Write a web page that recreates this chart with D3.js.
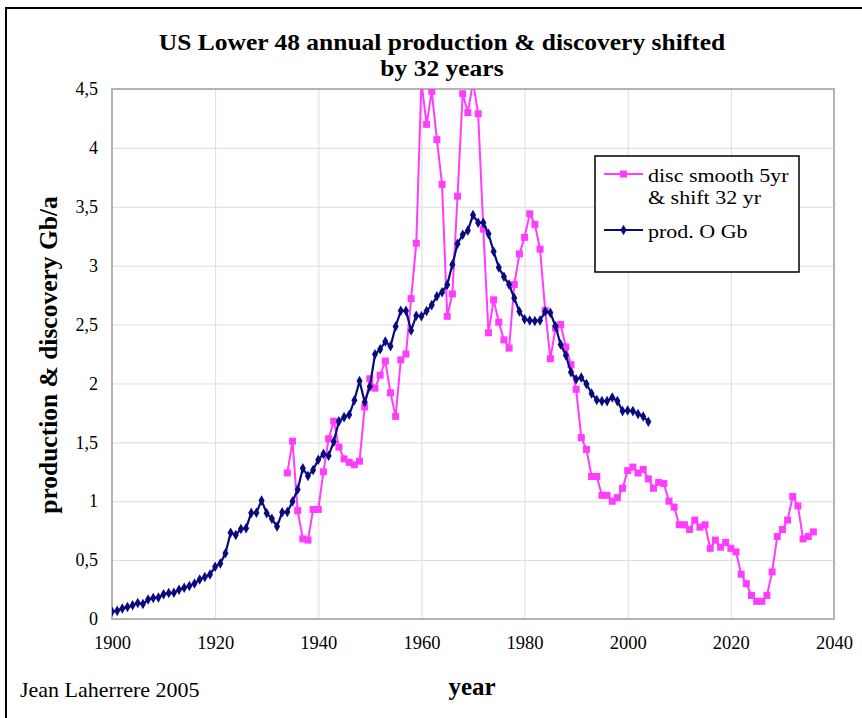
<!DOCTYPE html>
<html>
<head>
<meta charset="utf-8">
<script src="https://cdn.jsdelivr.net/npm/d3@7"></script>
<style>
  body { margin: 0; background: #fff; }
  svg text { font-family: "Liberation Serif", "Times New Roman", serif; fill: #000; }
</style>
</head>
<body>
<svg id="chart"></svg>
<script>
// US Lower 48 production, 1900..2004 (Gb/a)
const prodYears = d3.range(1900, 2005);
const prodValues = [
  0.064, 0.069, 0.089, 0.101, 0.117, 0.135, 0.127, 0.166, 0.179, 0.183,
  0.210, 0.220, 0.223, 0.248, 0.266, 0.281, 0.301, 0.335, 0.356, 0.378,
  0.443, 0.472, 0.558, 0.732, 0.714, 0.764, 0.771, 0.901, 0.902, 1.007,
  0.898, 0.851, 0.785, 0.906, 0.908, 0.997, 1.100, 1.279, 1.214, 1.265,
  1.353, 1.402, 1.387, 1.506, 1.678, 1.714, 1.734, 1.857, 2.020, 1.842,
  1.974, 2.248, 2.290, 2.357, 2.315, 2.484, 2.617, 2.617, 2.449, 2.575,
  2.570, 2.615, 2.665, 2.740, 2.775, 2.838, 3.010, 3.186, 3.262, 3.298,
  3.430, 3.365, 3.365, 3.270, 3.120, 2.985, 2.905, 2.840, 2.725, 2.610,
  2.545, 2.535, 2.530, 2.535, 2.610, 2.600, 2.485, 2.330, 2.240, 2.095,
  2.035, 2.050, 1.995, 1.915, 1.860, 1.850, 1.850, 1.880, 1.850, 1.765,
  1.770, 1.765, 1.740, 1.720, 1.675
];

// discovery smoothed 5 yr, shifted 32 yr, 1934..2036 (Gb/a)
const discYears = d3.range(1934, 2037);
const discValues = [
  1.24, 1.51, 0.92, 0.68, 0.67, 0.93, 0.93, 1.25, 1.53, 1.68,
  1.46, 1.36, 1.33, 1.31, 1.34, 1.80, 2.04, 1.96, 2.07, 2.19,
  1.92, 1.72, 2.20, 2.25, 2.72, 3.19, 4.56, 4.20, 4.48, 4.07,
  3.69, 2.57, 2.76, 3.59, 4.46, 4.30, 4.56, 4.29, 3.31, 2.43,
  2.71, 2.52, 2.37, 2.30, 2.84, 3.10, 3.24, 3.44, 3.35, 3.14,
  2.62, 2.21, 2.47, 2.50, 2.31, 2.16, 1.95, 1.54, 1.44, 1.21,
  1.21, 1.05, 1.05, 1.00, 1.03, 1.11, 1.26, 1.29, 1.24, 1.27,
  1.19, 1.11, 1.16, 1.15, 1.00, 0.95, 0.80, 0.80, 0.76, 0.84,
  0.78, 0.80, 0.60, 0.67, 0.61, 0.65, 0.60, 0.57, 0.38, 0.30,
  0.20, 0.15, 0.15, 0.20, 0.40, 0.70, 0.76, 0.84, 1.04, 0.96,
  0.68, 0.70, 0.74
];

const xTicks = [1900, 1920, 1940, 1960, 1980, 2000, 2020, 2040];
const yTicks = [0, 0.5, 1, 1.5, 2, 2.5, 3, 3.5, 4, 4.5];

const titleLines = ['US Lower 48 annual production & discovery shifted', 'by 32 years'];
const legendItems = [
  { lines: ['disc smooth 5yr', '& shift 32 yr'], color: '#ff3cff', shape: 'square' },
  { lines: ['prod. O Gb'], color: '#0a0a80', shape: 'diamond' }
];

const svgWidth = 862;
const svgHeight = 718;
const plot = { left: 112, top: 89, right: 834, bottom: 619 };
const serif = '"Liberation Serif", "Times New Roman", serif';

// widen text horizontally (the original lettering is wide for its height)
function stretch(sel, k) {
  sel.each(function () {
    const len = this.getComputedTextLength();
    d3.select(this).attr('textLength', len * k).attr('lengthAdjust', 'spacingAndGlyphs');
  });
}

const svg = d3.select('#chart')
  .attr('width', svgWidth)
  .attr('height', svgHeight);

// outer frame
svg.append('rect')
  .attr('x', 6).attr('y', 8)
  .attr('width', svgWidth + 10).attr('height', svgHeight + 10)
  .attr('fill', 'none').attr('stroke', '#000').attr('stroke-width', 2);

const x = d3.scaleLinear().domain([1900, 2040]).range([plot.left, plot.right]);
const y = d3.scaleLinear().domain([0, 4.5]).range([plot.bottom, plot.top]);

const fmt = d => String(d).replace('.', ',');

// grid
svg.append('g')
  .attr('transform', 'translate(0,' + plot.bottom + ')')
  .call(d3.axisBottom(x).tickValues(xTicks).tickSize(-(plot.bottom - plot.top)).tickFormat(''))
  .call(g => g.select('.domain').remove())
  .call(g => g.selectAll('line').attr('stroke', '#dcdcdc').attr('stroke-width', 1));
svg.append('g')
  .attr('transform', 'translate(' + plot.left + ',0)')
  .call(d3.axisLeft(y).tickValues(yTicks).tickSize(-(plot.right - plot.left)).tickFormat(''))
  .call(g => g.select('.domain').remove())
  .call(g => g.selectAll('line').attr('stroke', '#dcdcdc').attr('stroke-width', 1));

// tick labels
const xAxis = svg.append('g')
  .attr('transform', 'translate(0,' + plot.bottom + ')')
  .attr('font-family', serif)
  .call(d3.axisBottom(x).tickValues(xTicks).tickSize(0).tickPadding(17).tickFormat(d3.format('d')));
xAxis.select('.domain').remove();
xAxis.selectAll('text').attr('font-family', serif).style('font-size', '18.5px');

const yAxis = svg.append('g')
  .attr('transform', 'translate(' + (plot.left - 14) + ',0)')
  .attr('font-family', serif)
  .call(d3.axisLeft(y).tickValues(yTicks).tickSize(0).tickPadding(0).tickFormat(fmt));
yAxis.select('.domain').remove();
yAxis.selectAll('text').attr('font-family', serif).style('font-size', '18px');

// plot border
svg.append('rect')
  .attr('x', plot.left).attr('y', plot.top)
  .attr('width', plot.right - plot.left).attr('height', plot.bottom - plot.top)
  .attr('fill', 'none').attr('stroke', '#b4b4b4').attr('stroke-width', 2);

svg.append('clipPath').attr('id', 'clip')
  .append('rect')
  .attr('x', plot.left).attr('y', plot.top)
  .attr('width', plot.right - plot.left).attr('height', plot.bottom - plot.top);

const series = svg.append('g').attr('clip-path', 'url(#clip)');

const line = d3.line().x(d => x(d[0])).y(d => y(d[1]));

const disc = discYears.map((yr, i) => [yr, discValues[i]]);
const prod = prodYears.map((yr, i) => [yr, prodValues[i]]);

// discovery (magenta squares)
series.append('path')
  .datum(disc)
  .attr('d', line)
  .attr('fill', 'none')
  .attr('stroke', legendItems[0].color)
  .attr('stroke-width', 2);
series.selectAll('rect.disc')
  .data(disc)
  .enter()
  .append('rect')
  .attr('class', 'disc')
  .attr('x', d => x(d[0]) - 3.5)
  .attr('y', d => y(d[1]) - 3.5)
  .attr('width', 7).attr('height', 7)
  .attr('fill', legendItems[0].color);

// production (navy diamonds)
series.append('path')
  .datum(prod)
  .attr('d', line)
  .attr('fill', 'none')
  .attr('stroke', legendItems[1].color)
  .attr('stroke-width', 2.2);
const diamond = d3.symbol().type(d3.symbolDiamond).size(32);
series.selectAll('path.prod')
  .data(prod)
  .enter()
  .append('path')
  .attr('class', 'prod')
  .attr('d', diamond)
  .attr('transform', d => 'translate(' + x(d[0]) + ',' + y(d[1]) + ')')
  .attr('fill', legendItems[1].color);

// title, two lines
const title = svg.append('g')
  .attr('font-family', serif)
  .style('font-size', '23px').style('font-weight', 'bold');
titleLines.forEach((ln, i) => {
  title.append('text')
    .attr('x', 442)
    .attr('y', 50 + i * 26)
    .attr('text-anchor', 'middle')
    .text(ln);
});
stretch(title.selectAll('text'), 25.5 / 23);

// axis titles
svg.append('text')
  .attr('transform', 'translate(57,355) rotate(-90)')
  .attr('text-anchor', 'middle')
  .attr('font-family', serif)
  .style('font-size', '25.5px').style('font-weight', 'bold')
  .text('production & discovery Gb/a');

svg.append('text')
  .attr('x', 472).attr('y', 695)
  .attr('text-anchor', 'middle')
  .attr('font-family', serif)
  .style('font-size', '25px').style('font-weight', 'bold')
  .text('year');

svg.append('text')
  .attr('x', 20).attr('y', 697)
  .attr('font-family', serif)
  .style('font-size', '22px')
  .text('Jean Laherrere 2005');

// legend
const legend = svg.append('g');
legend.append('rect')
  .attr('x', 595).attr('y', 156)
  .attr('width', 204).attr('height', 116)
  .attr('fill', '#fff').attr('stroke', '#000').attr('stroke-width', 1.5);

const legendRows = [174, 230];
legendItems.forEach((item, i) => {
  const ly = legendRows[i];
  legend.append('line')
    .attr('x1', 604).attr('x2', 643)
    .attr('y1', ly).attr('y2', ly)
    .attr('stroke', item.color).attr('stroke-width', 2);
  if (item.shape === 'square') {
    legend.append('rect')
      .attr('x', 623.5 - 3.5).attr('y', ly - 3.5)
      .attr('width', 7).attr('height', 7)
      .attr('fill', item.color);
  } else {
    legend.append('path')
      .attr('d', diamond)
      .attr('transform', 'translate(623.5,' + ly + ')')
      .attr('fill', item.color);
  }
  item.lines.forEach((ln, j) => {
    const t = legend.append('text')
      .attr('x', 648)
      .attr('y', ly + 8 + j * 21.5)
      .attr('font-family', serif)
      .style('font-size', '19px')
      .text(ln);
    stretch(t, 22 / 19);
  });
});
</script>
</body>
</html>
